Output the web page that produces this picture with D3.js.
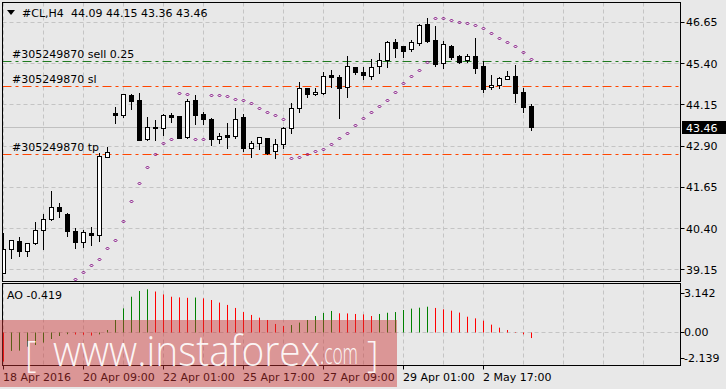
<!DOCTYPE html>
<html>
<head>
<meta charset="utf-8">
<script src="https://cdn.jsdelivr.net/npm/d3@7"></script>
<style>
	body { margin: 0; background: #e8e8e8; }
	svg { display: block; font-family: "DejaVu Sans", sans-serif; font-size: 11px; }
</style>
</head>
<body>
<svg id="chart" width="726" height="389"></svg>
<script>
// #CL,H4 candles, one value per bar
var open = [39.05, 39.76, 40.01, 39.71, 39.96, 40.33, 40.66, 41.03, 40.83, 40.31,
	39.99, 40.24, 40.20, 42.56, 43.88, 43.83, 44.43, 44.28, 43.09, 43.43,
	43.42, 43.83, 43.79, 43.15, 44.28, 43.85, 43.70, 43.11, 43.22, 43.20,
	43.77, 42.83, 42.97, 43.12, 42.73, 42.94, 43.42, 44.03, 44.63, 44.45,
	44.48, 45.03, 44.97, 44.66, 45.27, 45.13, 45.01, 45.30, 45.48, 46.03,
	45.92, 45.82, 46.02, 46.57, 46.10, 45.39, 45.92, 45.61, 45.48, 45.61,
	45.31, 44.66, 44.73, 44.92, 45.01, 44.51, 44.09];
var high = [40.26, 40.05, 40.12, 39.95, 40.58, 40.82, 41.52, 41.15, 40.87, 40.39,
	40.34, 40.44, 42.68, 42.87, 44.06, 44.47, 44.46, 44.48, 43.76, 43.67,
	43.85, 43.88, 43.80, 44.31, 44.43, 43.93, 43.72, 43.27, 43.57, 44.05,
	43.85, 43.05, 43.15, 43.14, 43.09, 43.47, 44.18, 44.82, 44.64, 44.63,
	45.12, 45.19, 45.04, 45.61, 45.29, 45.27, 45.51, 45.71, 46.06, 46.12,
	45.92, 46.10, 46.58, 46.76, 46.52, 46.08, 45.95, 45.64, 45.67, 46.15,
	45.47, 45.04, 44.97, 45.16, 45.34, 44.63, 44.15];
var low = [39.03, 39.50, 39.55, 39.55, 39.92, 39.76, 40.65, 40.74, 40.16, 39.80,
	39.83, 39.89, 40.02, 42.56, 43.59, 43.76, 44.00, 43.06, 43.06, 43.07,
	43.22, 43.62, 43.12, 43.12, 43.55, 43.55, 42.92, 42.99, 42.82, 43.12,
	42.74, 42.56, 42.80, 42.64, 42.51, 42.83, 43.27, 43.91, 44.38, 44.43,
	44.46, 44.67, 43.74, 44.38, 45.07, 44.93, 44.93, 45.11, 45.27, 45.57,
	45.59, 45.76, 45.95, 46.05, 45.32, 45.24, 45.51, 45.41, 45.43, 45.09,
	44.53, 44.62, 44.65, 44.92, 44.23, 43.93, 43.36];
var close = [39.76, 40.03, 39.71, 39.94, 40.33, 40.66, 41.03, 40.93, 40.32, 39.99,
	40.27, 40.20, 42.58, 42.71, 43.83, 44.45, 44.26, 43.07, 43.45, 43.45,
	43.83, 43.77, 43.14, 44.25, 43.83, 43.70, 43.11, 43.19, 43.17, 43.70,
	42.83, 42.97, 43.15, 42.68, 42.94, 43.42, 44.03, 44.63, 44.45, 44.51,
	45.00, 44.99, 44.63, 45.30, 45.12, 45.03, 45.27, 45.48, 46.03, 45.87,
	45.77, 46.03, 46.55, 46.08, 45.38, 45.97, 45.59, 45.44, 45.61, 45.24,
	44.61, 44.74, 44.94, 45.01, 44.50, 44.08, 43.46];

// parabolic SAR (first bars fall below the visible range)
var sar = [null, null, null, null, null, null, null, null, null, 38.85,
	39.06, 39.27, 39.45, 39.79, 40.03, 40.60, 41.21, 41.76, 42.24, 42.63,
	42.97, 43.09, 44.48, 44.45, 43.09, 43.09, 44.42, 44.42, 44.39, 44.30,
	44.28, 44.18, 44.03, 43.91, 43.82, 43.70, 42.51, 42.54, 42.64, 42.73,
	42.79, 42.94, 43.12, 43.27, 43.51, 43.72, 43.91, 44.09, 44.27, 44.51,
	44.79, 45.00, 45.18, 45.42, 46.76, 46.76, 46.71, 46.63, 46.60, 46.54,
	46.45, 46.30, 46.15, 46.03, 45.91, 45.73, 45.51];

// Awesome Oscillator
var ao = [-2.139, -1.36, -1.34, -1.05, -0.93, -0.75, -0.49, -0.27, -0.14, -0.16,
	-0.18, -0.24, -0.15, 0.17, 0.90, 1.75, 2.60, 3.02, 3.142, 2.98,
	2.77, 2.60, 2.55, 2.52, 2.54, 2.48, 2.36, 2.17, 2.00, 1.78,
	1.48, 1.27, 1.07, 0.90, 0.61, 0.46, 0.53, 0.71, 0.90, 1.19,
	1.41, 1.56, 1.39, 1.38, 1.34, 1.31, 1.19, 1.34, 1.43, 1.48,
	1.63, 1.73, 1.80, 1.87, 1.78, 1.68, 1.58, 1.44, 1.14, 1.02,
	0.85, 0.56, 0.34, 0.17, 0.02, -0.15, -0.419];

var timeLabels = ["18 Apr 2016", "20 Apr 09:00", "22 Apr 01:00", "25 Apr 17:00",
	"27 Apr 09:00", "29 Apr 01:00", "2 May 17:00"];
var priceTicks = [39.15, 40.40, 41.65, 42.90, 44.15, 45.40, 46.65];
var aoTicks = [3.142, 0, -2.139];
var aoTickLabels = ["3.142", "0.00", "-2.139"];

var orderNames = ["#305249870 sell 0.25", "#305249870 sl", "#305249870 tp"];
var orderPrices = [45.45, 44.70, 42.63];
var orderColors = ["#1f7a1f", "#ff4500", "#ff4500"];

var symbol = "#CL,H4";
var lastBar = "44.09 44.15 43.36 43.46";
var aoTitle = "AO -0.419";

var svg = d3.select("#chart");
var fr = { left: 2.5, right: 680.5, top: 2.5, mainBottom: 281.5, aoTop: 283.5, aoBottom: 365.5 };
var bg = "#e8e8e8", gridColor = "#c4c4c4";

var n = close.length;
var x = d3.scaleLinear().domain([0, n - 1]).range([3.5, 3.5 + 8 * (n - 1)]);
var y = d3.scaleLinear().domain([39.15, 46.65]).range([269.3, 21.8]);
var yAO = d3.scaleLinear().domain([-2.139, 3.142]).range([361.6, 289.3]);
var crisp = v => Math.round(v) + 0.5;

svg.append("rect").attr("width", 726).attr("height", 389).attr("fill", bg);

var defs = svg.append("defs");
defs.append("clipPath").attr("id", "clipMain").append("rect")
	.attr("x", 3).attr("y", 3).attr("width", 677).attr("height", 278);
defs.append("clipPath").attr("id", "clipAO").append("rect")
	.attr("x", 3).attr("y", 284).attr("width", 677).attr("height", 81);

// vertical grid every 5 bars
var gridIdx = d3.range(0, 90, 5).filter(i => x(i) < fr.right - 1);
var grid = svg.append("g").attr("stroke", gridColor).attr("stroke-dasharray", "4,3");
grid.selectAll(".vm").data(gridIdx).enter().append("line")
	.attr("x1", d => x(d)).attr("x2", d => x(d))
	.attr("y1", fr.top).attr("y2", fr.mainBottom);
grid.selectAll(".va").data(gridIdx).enter().append("line")
	.attr("x1", d => x(d)).attr("x2", d => x(d))
	.attr("y1", fr.aoTop).attr("y2", fr.aoBottom);
grid.selectAll(".hm").data(priceTicks).enter().append("line")
	.attr("x1", fr.left).attr("x2", fr.right)
	.attr("y1", d => crisp(y(d))).attr("y2", d => crisp(y(d)));
grid.append("line")
	.attr("x1", fr.left).attr("x2", fr.right)
	.attr("y1", crisp(yAO(0))).attr("y2", crisp(yAO(0)));

// current price line
svg.append("line")
	.attr("x1", fr.left).attr("x2", fr.right)
	.attr("y1", crisp(y(close[n - 1]))).attr("y2", crisp(y(close[n - 1])))
	.attr("stroke", "#c0c0c0");

// order lines
var orders = svg.append("g");
orderPrices.forEach((p, k) => {
	orders.append("line")
		.attr("x1", fr.left).attr("x2", fr.right)
		.attr("y1", crisp(y(p))).attr("y2", crisp(y(p)))
		.attr("stroke", orderColors[k])
		.attr("stroke-width", 1)
		.attr("stroke-dasharray", "9,4,3,4");
	orders.append("text")
		.attr("x", 12).attr("y", crisp(y(p)) - 3.5)
		.attr("fill", "#000")
		.text(orderNames[k]);
});

// candles
var main = svg.append("g").attr("clip-path", "url(#clipMain)");
var idx = d3.range(n);
main.selectAll(".wick").data(idx).enter().append("line")
	.attr("x1", d => x(d)).attr("x2", d => x(d))
	.attr("y1", d => Math.round(y(high[d]))).attr("y2", d => Math.round(y(low[d])) + 1)
	.attr("stroke", "#000");
main.selectAll(".body").data(idx).enter().append("rect")
	.attr("x", d => x(d) - 2)
	.attr("width", 4)
	.attr("y", d => crisp(y(Math.max(open[d], close[d]))))
	.attr("height", d => Math.max(1, Math.round(y(Math.min(open[d], close[d]))) - Math.round(y(Math.max(open[d], close[d])))))
	.attr("fill", d => close[d] >= open[d] ? "#fff" : "#000")
	.attr("stroke", "#000");

// SAR dots
main.selectAll(".sar").data(idx.filter(d => sar[d] !== null)).enter().append("path")
	.attr("d", d => `M${x(d)},${crisp(y(sar[d])) - 1.5}l1.5,1.5l-1.5,1.5l-1.5,-1.5z`)
	.attr("fill", "none")
	.attr("stroke", "#800080")
	.attr("stroke-width", 1);

// AO histogram
var aoG = svg.append("g").attr("clip-path", "url(#clipAO)");
aoG.selectAll(".ao").data(idx).enter().append("line")
	.attr("x1", d => x(d)).attr("x2", d => x(d))
	.attr("y1", crisp(yAO(0)))
	.attr("y2", d => yAO(ao[d]))
	.attr("stroke", d => (d > 0 && ao[d] > ao[d - 1]) ? "#008000" : "#ff0000");

// frames
var frames = svg.append("g").attr("fill", "none").attr("stroke", "#000");
frames.append("rect").attr("x", fr.left).attr("y", fr.top)
	.attr("width", fr.right - fr.left).attr("height", fr.mainBottom - fr.top);
frames.append("rect").attr("x", fr.left).attr("y", fr.aoTop)
	.attr("width", fr.right - fr.left).attr("height", fr.aoBottom - fr.aoTop);

// right price scale
var pScale = svg.append("g");
pScale.selectAll("line").data(priceTicks).enter().append("line")
	.attr("x1", fr.right).attr("x2", fr.right + 4)
	.attr("y1", d => crisp(y(d))).attr("y2", d => crisp(y(d)))
	.attr("stroke", "#000");
pScale.selectAll("text").data(priceTicks).enter().append("text")
	.attr("x", 686).attr("y", d => y(d) + 4.5)
	.text(d => d3.format(".2f")(d));

// last price marker
var lastY = y(close[n - 1]);
svg.append("rect").attr("x", 682).attr("y", Math.round(lastY) - 6)
	.attr("width", 44).attr("height", 13).attr("fill", "#000");
svg.append("text").attr("x", 686).attr("y", lastY + 4.5)
	.attr("fill", "#fff").text(d3.format(".2f")(close[n - 1]));

// AO scale
var aoOff = [8, 4, 0.5];
var aScale = svg.append("g");
aoTicks.forEach((v, k) => {
	aScale.append("line")
		.attr("x1", fr.right).attr("x2", fr.right + 4)
		.attr("y1", crisp(yAO(v) + aoOff[k] - 4)).attr("y2", crisp(yAO(v) + aoOff[k] - 4))
		.attr("stroke", "#000");
	aScale.append("text")
		.attr("x", 684).attr("y", yAO(v) + aoOff[k])
		.text(aoTickLabels[k]);
});

// time axis
var tIdx = timeLabels.map((t, k) => k * 10);
var tAxis = svg.append("g");
tAxis.selectAll("line").data(tIdx).enter().append("line")
	.attr("x1", d => x(d)).attr("x2", d => x(d))
	.attr("y1", fr.aoBottom).attr("y2", fr.aoBottom + 4)
	.attr("stroke", "#000");
tAxis.selectAll("text").data(tIdx).enter().append("text")
	.attr("x", d => x(d) - 0.5).attr("y", 381)
	.text((d, k) => timeLabels[k]);

// header
svg.append("path").attr("d", "M7,10L15,10L11,15Z").attr("fill", "#000");
svg.append("text").attr("x", 22).attr("y", 16.5).text(symbol);
svg.append("text").attr("x", 71).attr("y", 16.5).text(lastBar);
svg.append("text").attr("x", 7).attr("y", 298.5).text(aoTitle);

// watermark
var wm = svg.append("g");
wm.append("rect").attr("x", 0).attr("y", 320).attr("width", 397).attr("height", 67)
	.attr("fill", "rgb(205,50,50)").attr("opacity", 0.45);
var wmText = wm.append("g").attr("fill", "#fff").attr("fill-opacity", 0.92)
	.style("font-family", "'Open Sans', sans-serif").style("font-weight", 300);
wmText.append("text").attr("x", 25).attr("y", 367).style("font-size", "36px").text("[");
wmText.append("text").attr("x", 53).attr("y", 366).style("font-size", "43px")
	.attr("textLength", 267).attr("lengthAdjust", "spacingAndGlyphs").text("www.instaforex");
wmText.append("text").attr("x", 320).attr("y", 364).style("font-size", "30px")
	.attr("textLength", 38).attr("lengthAdjust", "spacingAndGlyphs").text(".com");
wmText.append("text").attr("x", 367).attr("y", 367).style("font-size", "36px").text("]");
</script>
</body>
</html>
